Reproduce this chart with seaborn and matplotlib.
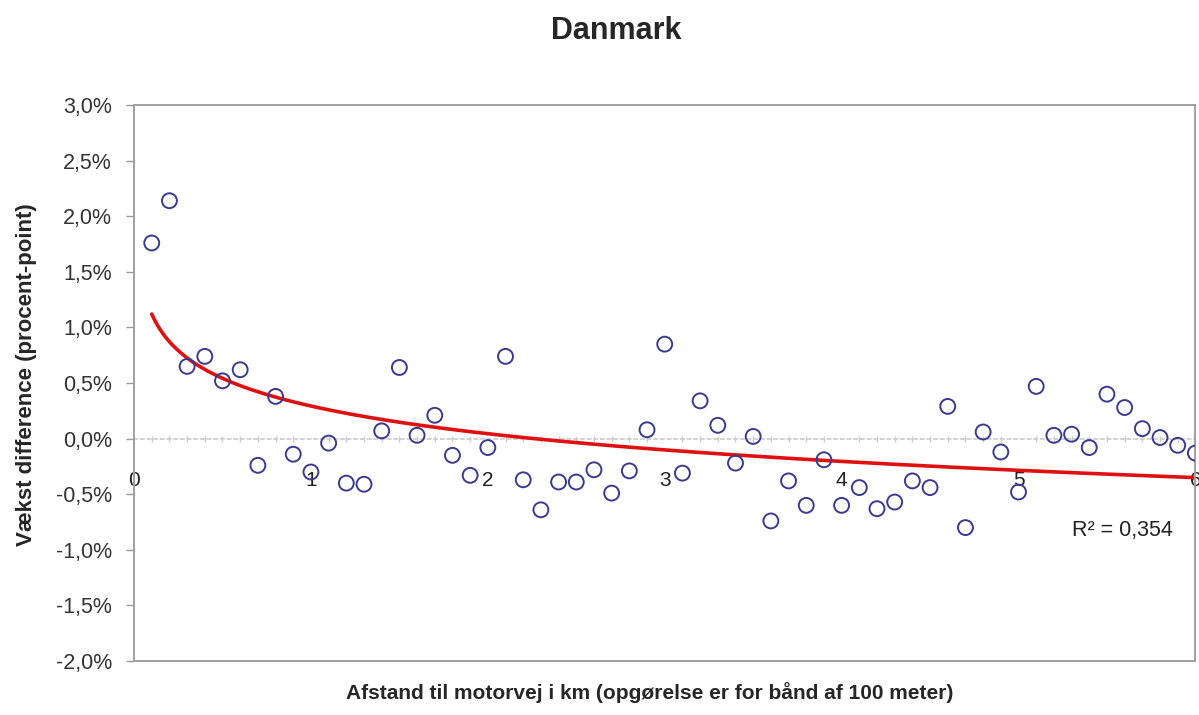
import numpy as np
import pandas as pd
import matplotlib
matplotlib.use("Agg")
import matplotlib.pyplot as plt
from matplotlib.ticker import FuncFormatter, MultipleLocator
import seaborn as sns

sns.set_style("white")
plt.rcParams["font.family"] = ["Liberation Sans", "DejaVu Sans"]

# afstand i km (bånd af 100 meter) og vækstdifference i procent-point
afstand = [0.1, 0.2, 0.3, 0.4, 0.5, 0.6, 0.7, 0.8, 0.9, 1.0,
           1.1, 1.2, 1.3, 1.4, 1.5, 1.6, 1.7, 1.8, 1.9, 2.0,
           2.1, 2.2, 2.3, 2.4, 2.5, 2.6, 2.7, 2.8, 2.9, 3.0,
           3.1, 3.2, 3.3, 3.4, 3.5, 3.6, 3.7, 3.8, 3.9, 4.0,
           4.1, 4.2, 4.3, 4.4, 4.5, 4.6, 4.7, 4.8, 4.9, 5.0,
           5.1, 5.2, 5.3, 5.4, 5.5, 5.6, 5.7, 5.8, 5.9, 6.0]
vaekst = [1.76, 2.14, 0.65, 0.74, 0.52, 0.62, -0.24, 0.38, -0.14, -0.30,
          -0.04, -0.40, -0.41, 0.07, 0.64, 0.03, 0.21, -0.15, -0.33, -0.08,
          0.74, -0.37, -0.64, -0.39, -0.39, -0.28, -0.49, -0.29, 0.08, 0.85,
          -0.31, 0.34, 0.12, -0.22, 0.02, -0.74, -0.38, -0.60, -0.19, -0.60,
          -0.44, -0.63, -0.57, -0.38, -0.44, 0.29, -0.80, 0.06, -0.12, -0.48,
          0.47, 0.03, 0.04, -0.08, 0.40, 0.28, 0.09, 0.01, -0.06, -0.13]
x_ticks = [0, 1, 2, 3, 4, 5, 6]
y_ticks = [-2.0, -1.5, -1.0, -0.5, 0.0, 0.5, 1.0, 1.5, 2.0, 2.5, 3.0]

df = pd.DataFrame({"afstand": afstand, "vaekst": vaekst})

# logaritmisk tendenslinje (som i Excel)
a, b = np.polyfit(np.log(df["afstand"]), df["vaekst"], 1)
xs = np.linspace(df["afstand"].min(), df["afstand"].max(), 400)
trend = pd.DataFrame({"afstand": xs, "vaekst": a * np.log(xs) + b})
pred = a * np.log(df["afstand"]) + b
r2 = 1 - ((df["vaekst"] - pred) ** 2).sum() / ((df["vaekst"] - df["vaekst"].mean()) ** 2).sum()
print("a=%.3f b=%.3f R2=%.3f" % (a, b, r2))

fig = plt.figure(figsize=(11.99, 7.15), dpi=100)
ax = fig.add_axes([0.1118, 0.0755, 0.8852, 0.7775])

sns.scatterplot(data=df, x="afstand", y="vaekst", ax=ax, marker="o",
                s=115, facecolor="none", edgecolor="#3a3a8f", linewidth=1.4,
                zorder=3)
sns.lineplot(data=trend, x="afstand", y="vaekst", ax=ax, color="#e01010", lw=2.6, zorder=2)

ax.set_xlim(0, 6)
ax.set_ylim(-2, 3)
ax.set_yticks(y_ticks)
ax.yaxis.set_major_formatter(FuncFormatter(lambda v, p: f"{v:.1f}%".replace(".", ",")))
ax.tick_params(axis="y", direction="out", length=6, width=1, color="#999999",
               labelsize=15.5, labelcolor="#333333", pad=10, left=True)
ax.set_xticks([])
ax.set_xlabel("")
ax.set_ylabel("Vækst difference (procent-point)", fontsize=16, fontweight="bold")
ax.yaxis.set_label_coords(-0.091, 0.516)
for sp in ax.spines.values():
    sp.set_color("#a0a0a0")
    sp.set_linewidth(1.4)

# x-akse der krydser ved 0
sec = ax.secondary_xaxis((0 - (-2)) / 5)
sec.set_xticks(x_ticks)
sec.xaxis.set_minor_locator(MultipleLocator(0.1))
sec.spines["bottom"].set_linestyle((0, (2, 2)))
sec.spines["bottom"].set_color("#cccccc")
sec.spines["bottom"].set_linewidth(1.2)
sec.tick_params(which="major", direction="inout", length=0, labelsize=15,
                labelcolor="#222222", pad=23)
sec.tick_params(which="minor", direction="inout", length=4, width=1, color="#cccccc")

fig.text(0.514, 0.957, "Danmark", ha="center", va="center", fontsize=22, fontweight="bold")
fig.text(0.542, 0.031, "Afstand til motorvej i km (opgørelse er for bånd af 100 meter)",
         ha="center", va="center", fontsize=15, fontweight="bold")
ax.text(5.59, -0.83, "R² = 0,354", ha="center", va="center", fontsize=15.5, color="#222222")

fig.savefig("out.png", dpi=100)
